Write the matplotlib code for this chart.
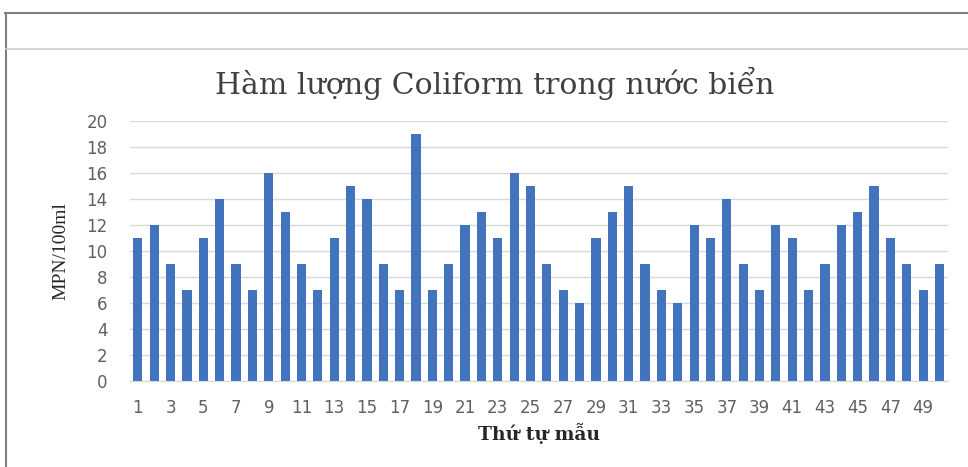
import matplotlib.pyplot as plt
from matplotlib.lines import Line2D

# Số liệu
samples = list(range(1, 51))
coliform = [11, 12, 9, 7, 11, 14, 9, 7, 16, 13,
            9, 7, 11, 15, 14, 9, 7, 19, 7, 9,
            12, 13, 11, 16, 15, 9, 7, 6, 11, 13,
            15, 9, 7, 6, 12, 11, 14, 9, 7, 12,
            11, 7, 9, 12, 13, 15, 11, 9, 7, 9]
yticks = list(range(0, 21, 2))
xticks = list(range(1, 51, 2))

BAR_COLOR = '#4273BD'
TEXT_GRAY = '#606060'

fig = plt.figure(figsize=(9.68, 4.67), dpi=100)
ax = fig.add_axes([0.134, 0.184, 0.845, 0.557])

ax.bar(samples, coliform, width=0.56, color=BAR_COLOR, zorder=2)

ax.set_xlim(0.5, 50.5)
ax.set_ylim(0, 20)
ax.set_yticks(yticks)
ax.set_xticks(xticks)
ax.tick_params(axis='both', length=0, labelsize=12, labelcolor=TEXT_GRAY)
ax.tick_params(axis='x', pad=13)
ax.tick_params(axis='y', pad=16)
ax.grid(axis='y', color='#d9d9d9', linewidth=1, zorder=0)
for s in ax.spines.values():
    s.set_visible(False)
ax.spines['bottom'].set_visible(True)
ax.spines['bottom'].set_color('#d9d9d9')

ax.set_xlabel('Thứ tự mẫu', family='DejaVu Serif', fontsize=13.5, fontweight='bold',
              color='#262626', labelpad=4)
ax.set_ylabel('MPN/100ml', family='Liberation Serif', fontsize=14, color='#262626', labelpad=12)
fig.text(0.511, 0.822, 'Hàm lượng Coliform trong nước biển', family='DejaVu Serif',
         fontsize=21.5, color='#404040', ha='center', va='center')

# khung ngoài
fig.add_artist(Line2D([0.005, 1.0], [0.972, 0.972], color='#7f7f7f', lw=1.5))
fig.add_artist(Line2D([0.006, 0.006], [0.0, 0.972], color='#7f7f7f', lw=1.5))
fig.add_artist(Line2D([0.006, 1.0], [0.895, 0.895], color='#d0d0d0', lw=1.2))

fig.savefig('out.png', dpi=100)
